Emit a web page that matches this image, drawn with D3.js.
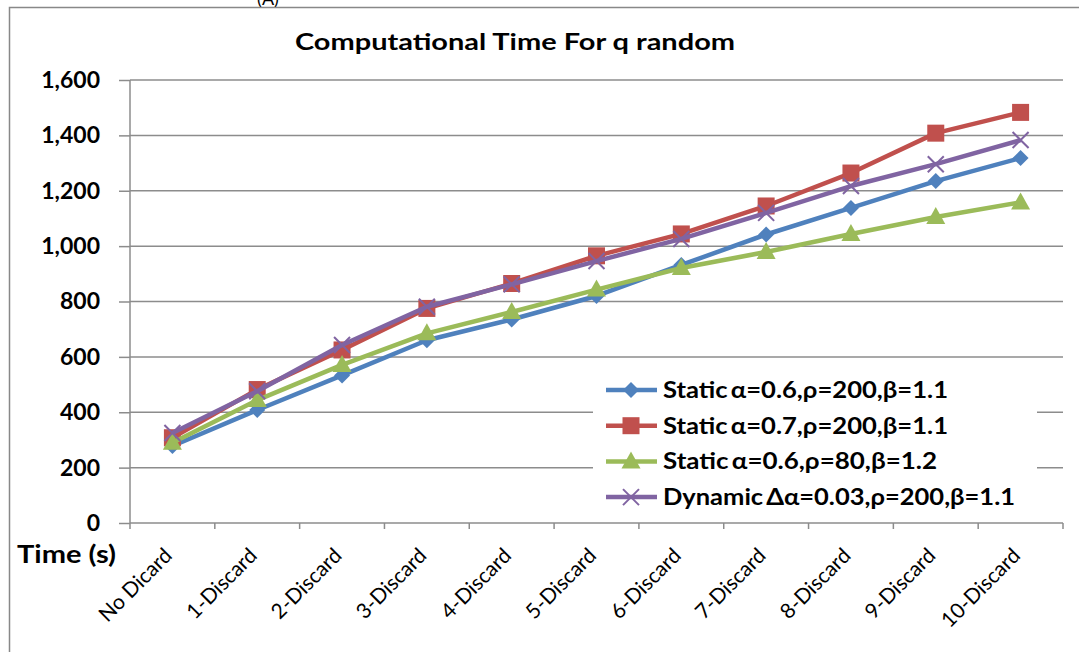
<!DOCTYPE html>
<html><head><meta charset="utf-8">
<script src="https://cdn.jsdelivr.net/npm/d3@7"></script>
<style>body{margin:0;background:#fff;} svg{display:block;font-family:Lato,"Open Sans",sans-serif;}</style>
</head><body><svg id="c" width="1079" height="652"></svg>
<script>
const categories = ["No Dicard","1-Discard","2-Discard","3-Discard","4-Discard","5-Discard","6-Discard","7-Discard","8-Discard","9-Discard","10-Discard"];
const staticA06 = [278, 408, 533, 660, 735, 820, 932, 1042, 1138, 1235, 1318];
const staticA07 = [308, 482, 625, 775, 865, 965, 1044, 1145, 1264, 1408, 1483];
const staticA06r80 = [290, 444, 571, 685, 762, 843, 921, 979, 1044, 1105, 1158];
const dynamic = [325, 476, 643, 781, 862, 946, 1026, 1120, 1217, 1296, 1383];
const yTicks = [0, 200, 400, 600, 800, 1000, 1200, 1400, 1600];
const seriesNames = ["Static\u2009α=0.6,ρ=200,β=1.1","Static\u2009α=0.7,ρ=200,β=1.1","Static\u2009α=0.6,ρ=80,β=1.2","Dynamic\u2009Δα=0.03,ρ=200,β=1.1"];
const seriesColors = ["#4F81BD","#C0504D","#9BBB59","#8064A2"];
const seriesMarkers = ["diamond","square","triangle","cross"];
const seriesValues = [staticA06, staticA07, staticA06r80, dynamic];

const svg = d3.select("#c");
const pL = 130, pR = 1063, pT = 80, pB = 523;
const x = d3.scaleBand().domain(categories).range([pL, pR]);
const y = d3.scaleLinear().domain([0, 1600]).range([pB, pT]);

// frame
svg.append("text").attr("x", 268).attr("y", 5).attr("text-anchor","middle").attr("font-size",18).attr("fill","#000").text("(A)");
svg.append("path").attr("d","M9.5,652 V7.5 H1079").attr("fill","none").attr("stroke","#888").attr("stroke-width",1.5);

// gridlines
svg.append("g").selectAll("line").data(yTicks.filter(d=>d>0)).join("line")
  .attr("x1",pL).attr("x2",pR).attr("y1",d=>y(d)).attr("y2",d=>y(d))
  .attr("stroke","#8c8c8c").attr("stroke-width",1.5);

// y axis
const yAxis = d3.axisLeft(y).tickValues(yTicks).tickSize(11).tickPadding(19).tickFormat(d3.format(","));
const gy = svg.append("g").attr("transform",`translate(${pL},0)`).call(yAxis);
gy.select(".domain").attr("stroke","#8c8c8c").attr("stroke-width",1.5).attr("d",`M0,${pT}V${pB}`);
gy.selectAll(".tick line").attr("stroke","#8c8c8c").attr("stroke-width",1.5);
gy.selectAll(".tick text").attr("font-size",23).attr("font-weight","bold").attr("fill","#000").attr("font-family","Lato,sans-serif");

// x axis
const gx = svg.append("g").attr("transform",`translate(0,${pB})`);
gx.append("line").attr("x1",pL).attr("x2",pR).attr("stroke","#8c8c8c").attr("stroke-width",1.5);
const bounds = categories.map(c=>x(c)).concat([pR]);
gx.selectAll("line.tk").data(bounds).join("line").attr("class","tk")
  .attr("x1",d=>d).attr("x2",d=>d).attr("y1",0).attr("y2",6).attr("stroke","#8c8c8c").attr("stroke-width",1.5);
gx.selectAll("text").data(categories).join("text")
  .attr("transform",d=>`translate(${x(d)+x.bandwidth()/2+1},${34}) rotate(-45)`)
  .attr("text-anchor","end").attr("font-size",21).attr("fill","#000").text(d=>d);

svg.append("text").attr("x",17).attr("y",563).attr("font-size",24).attr("font-weight","bold")
  .attr("textLength",99).attr("lengthAdjust","spacingAndGlyphs").text("Time (s)");

// title
svg.append("text").attr("x",295).attr("y",50).attr("font-size",23).attr("font-weight","bold")
  .attr("textLength",440).attr("lengthAdjust","spacingAndGlyphs").text("Computational Time For q random");

// series
const line = d3.line().x((d,i)=>x(categories[i])+x.bandwidth()/2).y(d=>y(d));
function marker(g, type, color, cx, cy){
  if(type==="diamond") g.append("path").attr("d",`M${cx},${cy-8}L${cx+8},${cy}L${cx},${cy+8}L${cx-8},${cy}Z`).attr("fill",color);
  else if(type==="square") g.append("rect").attr("x",cx-8.5).attr("y",cy-8.5).attr("width",17).attr("height",17).attr("fill",color);
  else if(type==="triangle") g.append("path").attr("d",`M${cx},${cy-10}L${cx+9.5},${cy+7}L${cx-9.5},${cy+7}Z`).attr("fill",color);
  else g.append("path").attr("d",`M${cx-8},${cy-8}L${cx+8},${cy+8}M${cx+8},${cy-8}L${cx-8},${cy+8}`).attr("stroke",color).attr("stroke-width",2);
}
seriesValues.forEach((vals, si)=>{
  const g = svg.append("g");
  g.append("path").datum(vals).attr("d",line).attr("fill","none").attr("stroke",seriesColors[si]).attr("stroke-width",4.5).attr("stroke-linejoin","round");
  vals.forEach((v,i)=>marker(g, seriesMarkers[si], seriesColors[si], x(categories[i])+x.bandwidth()/2, y(v)));
});

// legend
const legendWidths = [285, 285, 274, 352];
const lg = svg.append("g");
lg.append("rect").attr("x",593).attr("y",374).attr("width",444).attr("height",140).attr("fill","#fff");
seriesNames.forEach((n,i)=>{
  const yy = 390 + i*35.7;
  lg.append("line").attr("x1",606).attr("x2",657).attr("y1",yy).attr("y2",yy).attr("stroke",seriesColors[i]).attr("stroke-width",4.5);
  marker(lg, seriesMarkers[i], seriesColors[i], 631, yy);
  lg.append("text").attr("x",663).attr("y",yy+8).attr("font-size",22).attr("font-weight","bold")
    .attr("textLength",legendWidths[i]).attr("lengthAdjust","spacingAndGlyphs").text(n);
});
</script></body></html>
